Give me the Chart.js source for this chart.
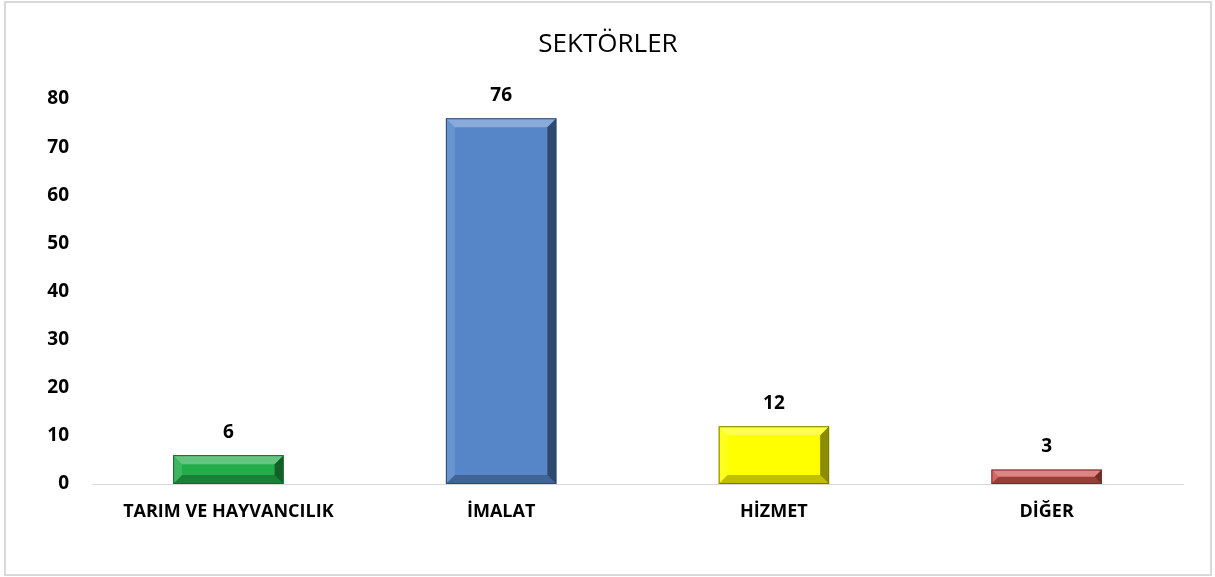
<!DOCTYPE html>
<html><head><meta charset="utf-8">
<script src="https://cdn.jsdelivr.net/npm/chart.js@4.4.1/dist/chart.umd.min.js"></script>
<style>html,body{margin:0;padding:0;background:#fff;}#wrap{position:relative;width:1215px;height:577px;}</style>
</head><body><div id="wrap"><canvas id="c" width="1215" height="577"></canvas></div>
<script>
const categories = ["TARIM VE HAYVANCILIK", "İMALAT", "HİZMET", "DİĞER"];
const values = [6, 76, 12, 3];
const yTicks = [0, 10, 20, 30, 40, 50, 60, 70, 80];
const barColors = ["#22ad4a", "#5686c8", "#ffff00", "#cc524d"];
const barBorders = ["#13672c", "#2a4a72", "#7a7a00", "#7a2b28"];
const FONT = "'Open Sans', 'Liberation Sans', sans-serif";

const framePlugin = {
  id: 'frame',
  afterDraw(chart) {
    const ctx = chart.ctx;
    ctx.save();
    ctx.strokeStyle = '#d9d9d9';
    ctx.lineWidth = 2;
    ctx.strokeRect(5, 2, 1206, 573);
    ctx.restore();
  }
};

const bevelPlugin = {
  id: 'bevel',
  afterDatasetsDraw(chart) {
    const ctx = chart.ctx;
    const meta = chart.getDatasetMeta(0);
    meta.data.forEach((bar, i) => {
      const p = bar.getProps(['x', 'y', 'width', 'base'], true);
      const x0 = p.x - p.width / 2, x1 = p.x + p.width / 2;
      const y0 = Math.min(p.y, p.base), y1 = Math.max(p.y, p.base);
      const h = y1 - y0;
      const b = Math.min(9, h / 2);
      ctx.save();
      const poly = (pts, fill) => {
        ctx.beginPath();
        ctx.moveTo(pts[0][0], pts[0][1]);
        for (let k = 1; k < pts.length; k++) ctx.lineTo(pts[k][0], pts[k][1]);
        ctx.closePath();
        ctx.fillStyle = fill;
        ctx.fill();
      };
      poly([[x0, y0], [x1, y0], [x1 - b, y0 + b], [x0 + b, y0 + b]], 'rgba(255,255,255,0.30)');
      poly([[x0, y0], [x0 + b, y0 + b], [x0 + b, y1 - b], [x0, y1]], 'rgba(255,255,255,0.12)');
      poly([[x1, y0], [x1, y1], [x1 - b, y1 - b], [x1 - b, y0 + b]], 'rgba(0,0,0,0.45)');
      poly([[x0, y1], [x0 + b, y1 - b], [x1 - b, y1 - b], [x1, y1]], 'rgba(0,0,0,0.25)');
      ctx.strokeStyle = barBorders[i];
      ctx.lineWidth = 1;
      ctx.strokeRect(x0 + 0.5, y0 + 0.5, p.width - 1, h - 1);
      ctx.fillStyle = '#000';
      ctx.font = "bold 19px " + FONT;
      ctx.textAlign = 'center';
      ctx.textBaseline = 'middle';
      ctx.fillText(String(values[i]), p.x, y0 - 23);
      ctx.restore();
    });
  }
};

new Chart(document.getElementById('c'), {
  type: 'bar',
  data: {
    labels: categories,
    datasets: [{
      data: values,
      backgroundColor: barColors,
      borderWidth: 0,
      categoryPercentage: 1,
      barPercentage: 0.405
    }]
  },
  options: {
    responsive: false,
    animation: false,
    events: [],
    layout: { padding: { left: 33, right: 32, top: 0, bottom: 0 } },
    plugins: {
      legend: { display: false },
      tooltip: { enabled: false },
      title: {
        display: true,
        text: 'SEKTÖRLER',
        color: '#000',
        font: { family: FONT, size: 26, weight: 'normal' },
        padding: { top: 28.5, bottom: 39.3 }
      }
    },
    scales: {
      x: {
        grid: { display: false, drawTicks: false },
        border: { display: true, color: '#d9d9d9', width: 1 },
        ticks: { color: '#000', font: { family: FONT, size: 18, weight: 'bold' }, padding: 17, maxRotation: 0, autoSkip: false },
        afterFit(scale) { scale.height = 93; }
      },
      y: {
        min: 0, max: 80,
        afterBuildTicks(scale) { scale.ticks = yTicks.map(v => ({ value: v })); },
        grid: { display: false, drawTicks: false },
        border: { display: false },
        ticks: { color: '#000', font: { family: FONT, size: 19, weight: 'bold' }, padding: 23 },
        afterFit(scale) { scale.width = 59; }
      }
    }
  },
  plugins: [bevelPlugin, framePlugin]
});
</script>
</body></html>
